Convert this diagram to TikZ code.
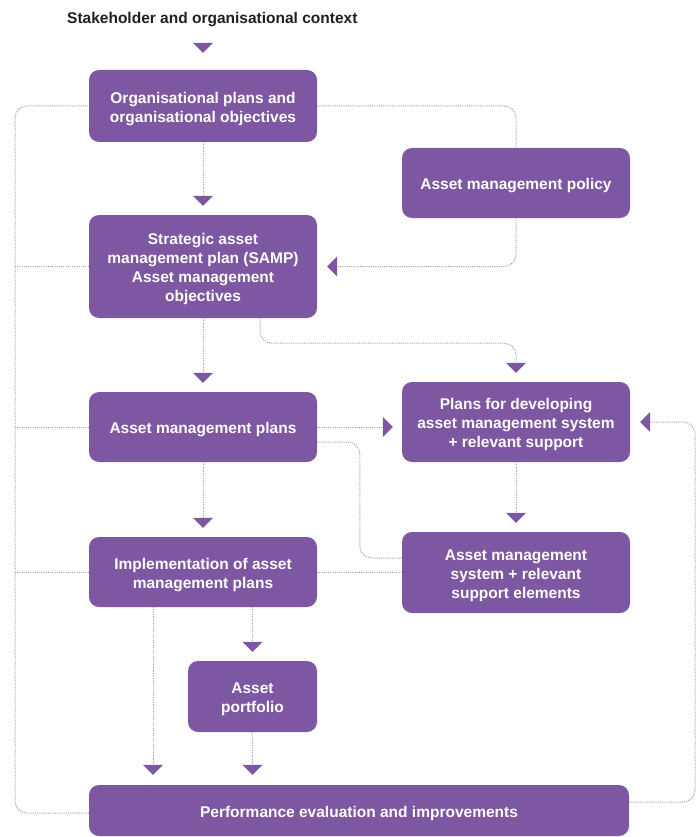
\documentclass[tikz,border=0pt]{standalone}
\usepackage{fontspec}
\setmainfont{Liberation Sans}
\usetikzlibrary{arrows.meta,calc}
\definecolor{purp}{HTML}{7E57A2}
\definecolor{dotc}{HTML}{A597BD}
\definecolor{ink}{HTML}{231F20}

% centred lines of box text, set slightly below the geometric middle
\newcommand\boxlines[1]{\raisebox{-2.75pt}[\height][\depth]{%
  \begin{tabular}{@{}c@{}}#1\end{tabular}}}

\begin{document}
\begin{tikzpicture}[x=1pt,y=-1pt,
  box/.style={fill=purp, rounded corners=10pt, text=white,
    font=\bfseries\fontsize{15.5}{19}\selectfont,
    inner sep=0pt, minimum width=228pt},
  link/.style={draw=dotc, line width=1pt, dash pattern=on 1pt off 1.2pt,
    rounded corners=12pt},
  arr/.style={link, -{Triangle[width=20pt,length=10pt,color=purp]},
    shorten >=9pt},
]
\useasboundingbox (0,0) rectangle (696,837);

% heading
\node[anchor=west, text=ink, inner sep=0pt,
  font=\bfseries\fontsize{15.5}{19}\selectfont] (title) at (67,20)
  {Stakeholder and organisational context};

% process boxes
\node[box, minimum height=72pt] (org) at (203,106)
  {\boxlines{Organisational plans and\\organisational objectives}};
\node[box, minimum height=70pt] (policy) at (516,183)
  {\boxlines{Asset management policy}};
\node[box, minimum height=103pt] (samp) at (203,266.5)
  {\boxlines{Strategic asset\\management plan (SAMP)\\Asset management\\objectives}};
\node[box, minimum height=80pt] (plansdev) at (516,422)
  {\boxlines{Plans for developing\\asset management system\\+ relevant support}};
\node[box, minimum height=70pt] (amplans) at (203,427)
  {\boxlines{Asset management plans}};
\node[box, minimum height=81pt] (amsys) at (516,572.5)
  {\boxlines{Asset management\\system + relevant\\support elements}};
\node[box, minimum height=70pt] (impl) at (203,572)
  {\boxlines{Implementation of asset\\management plans}};
\node[box, minimum width=129pt, minimum height=71pt] (portfolio) at (252.5,696.5)
  {\boxlines{Asset\\portfolio}};
\node[box, minimum width=540pt, minimum height=51pt] (perf) at (359,810.5)
  {\boxlines{Performance evaluation and improvements}};

% entry marker under the heading
\fill[purp] ($(org.north)+(-10,-27)$) -- ++(20,0) -- ++(-10,10) -- cycle;

% main column
\draw[arr] (org.south) -- (samp.north);
\draw[arr] (samp.south) -- (amplans.north);
\draw[arr] (amplans.south) -- (impl.north);

% policy branch
\draw[link] (org.east) -| (policy.north);
\draw[arr, shorten >=10pt] (policy.south) |- (samp.east);

% SAMP to development plans
\coordinate (s1) at ($(samp.south)+(57,0)$);
\draw[arr] (s1) -- ++(0,25) -| (plansdev.north);

% plans to development plans and to the system
\draw[arr] (amplans.east) -- (amplans.east -| plansdev.west);
\coordinate (a1) at ($(amplans.east)+(0,15)$);
\coordinate (m1) at ($(amsys.west)+(0,-14.5)$);
\draw[link] (a1) -| ($(m1)+(-42,0)$) -- (m1);
\draw[arr] (plansdev.south) -- (amsys.north);
\draw[link] (impl.east) -- (impl.east -| amsys.west);

% implementation outputs
\coordinate (i1) at ($(impl.south)+(-50,0)$);
\draw[arr, shorten >=10pt] (i1) -- (i1 |- perf.north);
\draw[arr] (impl.south -| portfolio.north) -- (portfolio.north);
\draw[arr, shorten >=10pt] (portfolio.south) -- (portfolio.south |- perf.north);

% feedback loop on the left
\coordinate (lx) at (15,0);
\coordinate (p0) at ($(perf.west)+(0,2.5)$);
\draw[link] (p0) -| (lx |- org.west) -- (org.west);
\draw[link] (lx |- samp.west) -- (samp.west);
\draw[link] (lx |- amplans.west) -- (amplans.west);
\draw[link] (lx |- impl.west) -- (impl.west);

% feedback loop on the right
\coordinate (rx) at (695,0);
\coordinate (p1) at ($(perf.east)+(0,-8.5)$);
\draw[arr, shorten >=10pt] (p1) -| (rx |- plansdev.east) -- (plansdev.east);
\end{tikzpicture}
\end{document}
